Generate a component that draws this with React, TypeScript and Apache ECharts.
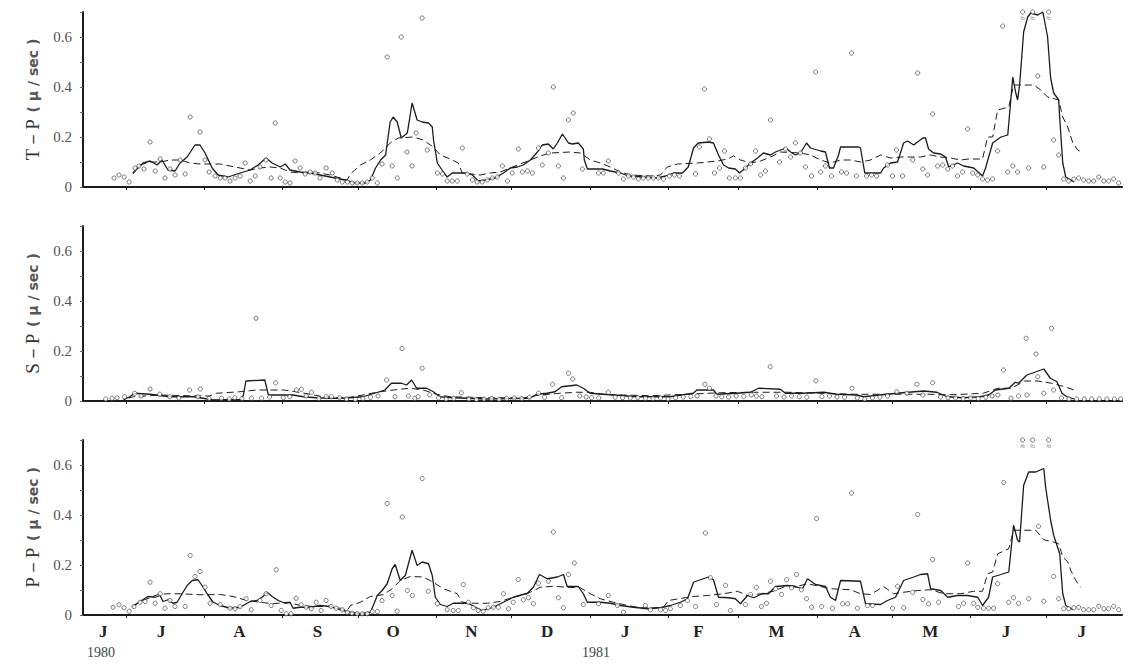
import React, { useEffect, useRef } from 'react';
import * as echarts from 'echarts';

// x = day index counted from 14 June 1980
const monthTickDays = [17, 48, 79, 109, 140, 170, 201, 232, 260, 291, 321, 352, 382];
const monthLabelDays = [8, 31, 62, 93, 123, 154, 184, 215, 244, 275, 306, 336, 366, 396];
const monthLabels = ['J', 'J', 'A', 'S', 'O', 'N', 'D', 'J', 'F', 'M', 'A', 'M', 'J', 'J'];
const yearLabels = ['1980', '1981'];
const yTickLabels = ['0', '0.2', '0.4', '0.6'];
const panelNames = ['T－P', 'S－P', 'P－P'];

// ---------- T-P ----------
const tpPoints = [[12.3,0.036],[14.3,0.048],[16.3,0.04],[18.3,0.02],[20.6,0.076],[22.2,0.084],[24.2,0.072],[26.6,0.18],[28.6,0.064],[30.6,0.112],[32.5,0.036],[34.5,0.072],[36.5,0.048],[38.5,0.108],[40.5,0.052],[42.5,0.28],[46.4,0.22],[48.4,0.108],[50,0.06],[52.4,0.044],[54.4,0.036],[56.3,0.036],[58.3,0.024],[60.3,0.036],[62.3,0.044],[64.3,0.096],[66.3,0.024],[68.3,0.044],[70.2,0.08],[72.6,0.108],[74.6,0.036],[76.2,0.256],[78.2,0.036],[80.2,0.02],[82.1,0.016],[84.1,0.104],[86.1,0.076],[88.1,0.052],[90.1,0.06],[92.1,0.056],[94,0.036],[96.4,0.076],[98.8,0.056],[100.8,0.028],[102.8,0.02],[104.8,0.02],[106.7,0.016],[108.7,0.016],[110.7,0.016],[112.7,0.02],[114.7,0.036],[116.7,0.016],[118.6,0.092],[120.6,0.52],[122.6,0.084],[124.6,0.036],[126.2,0.6],[128.5,0.14],[130.5,0.084],[132.1,0.216],[134.5,0.676],[136.5,0.148],[140.5,0.056],[142.5,0.052],[144.4,0.024],[146.4,0.024],[148.4,0.024],[150.4,0.156],[152.4,0.052],[154.4,0.028],[156.3,0.02],[158.3,0.02],[160.3,0.028],[162.3,0.036],[164.3,0.04],[166.3,0.084],[168.3,0.024],[170.2,0.056],[172.6,0.152],[174.2,0.06],[176.2,0.064],[178.2,0.056],[180.6,0.156],[182.1,0.088],[184.5,0.136],[186.5,0.4],[188.5,0.084],[190.5,0.036],[192.5,0.268],[194.4,0.296],[198,0.072],[204.4,0.056],[206.3,0.056],[208.3,0.104],[212.3,0.056],[214.3,0.032],[216.3,0.044],[218.3,0.04],[220.2,0.032],[222.2,0.036],[224.2,0.036],[226.2,0.036],[228.2,0.036],[230.2,0.032],[232.5,0.044],[234.5,0.048],[236.5,0.044],[242.9,0.052],[244.4,0.16],[246.4,0.392],[248.4,0.192],[250.4,0.056],[252.4,0.076],[254.4,0.144],[256.3,0.036],[258.7,0.036],[260.7,0.036],[262.7,0.076],[264.7,0.092],[266.7,0.144],[268.7,0.048],[270.6,0.064],[272.6,0.268],[276.2,0.1],[278.6,0.152],[280.6,0.12],[282.5,0.176],[284.5,0.136],[286.5,0.08],[288.9,0.044],[290.5,0.46],[292.5,0.06],[294.4,0.084],[296.8,0.044],[300.8,0.06],[302.8,0.056],[304.8,0.536],[306.7,0.044],[310.7,0.044],[312.7,0.048],[314.7,0.044],[319,0.088],[321,0.044],[322.6,0.148],[325,0.044],[329,0.108],[331,0.456],[333,0.072],[334.9,0.048],[336.9,0.292],[338.9,0.084],[340.9,0.088],[342.9,0.072],[344.8,0.084],[346.8,0.044],[348.8,0.06],[350.8,0.232],[352.8,0.056],[354.8,0.048],[356.7,0.032],[358.7,0.028],[360.7,0.032],[362.7,0.144],[364.7,0.644],[366.7,0.06],[368.7,0.084],[370.6,0.06],[372.6,0.7],[375,0.076],[376.6,0.7],[378.6,0.444],[381,0.08],[382.9,0.7],[384.9,0.188],[386.9,0.128],[388.9,0.032],[390.9,0.024],[392.9,0.032],[394.8,0.036],[396.8,0.028],[398.8,0.024],[400.8,0.024],[402.8,0.04],[404.8,0.024],[406.7,0.024],[408.7,0.032],[410.7,0.016]];
const tpSolid = [[19.8,0.056],[23.8,0.096],[26.6,0.104],[29.4,0.088],[31.3,0.108],[33.7,0.068],[36.5,0.064],[38.5,0.096],[41.3,0.12],[44.4,0.168],[46.4,0.168],[48.4,0.136],[51.2,0.076],[53.6,0.048],[57.5,0.04],[62.3,0.056],[66.3,0.068],[69.4,0.088],[72.6,0.116],[75,0.096],[78.2,0.08],[80.2,0.092],[82.1,0.068],[86.1,0.06],[90.1,0.056],[94,0.048],[100,0.036],[104,0.028],[108,0.016],[112,0.016],[114,0.028],[116,0.076],[118,0.108],[120,0.128],[121.8,0.26],[123,0.28],[124.6,0.26],[126.2,0.196],[128.6,0.216],[130.5,0.336],[132.5,0.268],[134.5,0.26],[137,0.256],[138.5,0.24],[139,0.188],[140.5,0.096],[142.9,0.06],[144.4,0.04],[146.4,0.056],[152.4,0.056],[154.4,0.048],[156.7,0.024],[159.5,0.028],[163.5,0.036],[166.7,0.056],[169.4,0.076],[172.2,0.08],[174.6,0.088],[177.4,0.108],[180.2,0.14],[182.1,0.168],[184.5,0.172],[186.5,0.152],[188.1,0.176],[190.1,0.212],[192.5,0.176],[194,0.172],[196.4,0.176],[198.4,0.152],[198.8,0.108],[200,0.072],[206,0.072],[209.1,0.064],[213.1,0.056],[216.3,0.044],[222.2,0.04],[227.8,0.036],[231,0.044],[234.1,0.056],[237.7,0.056],[240,0.08],[242.1,0.156],[244,0.176],[248,0.18],[250,0.176],[252,0.128],[254,0.088],[256,0.076],[258.7,0.072],[260.3,0.056],[262.7,0.076],[264.7,0.096],[267.5,0.116],[269.8,0.136],[272.6,0.128],[274.6,0.14],[278.6,0.156],[280.6,0.14],[282.5,0.128],[284.5,0.136],[286.9,0.176],[288.5,0.156],[292.5,0.144],[294.4,0.14],[296,0.076],[297.6,0.076],[299.6,0.128],[300.4,0.16],[307.5,0.16],[308.3,0.156],[310,0.056],[316.3,0.056],[317.5,0.076],[320.2,0.096],[323,0.1],[325.4,0.176],[327,0.184],[329.4,0.168],[333,0.196],[334.1,0.196],[335.3,0.152],[337.3,0.136],[340.1,0.132],[342,0.12],[343.3,0.08],[346.8,0.096],[349.2,0.084],[353.2,0.076],[356.7,0.044],[357.9,0.076],[360.7,0.176],[364,0.2],[366.7,0.208],[368.7,0.44],[369.8,0.38],[370.6,0.348],[371.4,0.408],[373,0.62],[374.6,0.68],[375.8,0.696],[378.6,0.688],[380.6,0.7],[381,0.68],[382.5,0.6],[383.7,0.436],[384.9,0.376],[386.9,0.348],[387.3,0.276],[388.5,0.096],[389.7,0.04],[391.7,0.028],[392.9,0.02]];
const tpDash = [[19.8,0.052],[22.6,0.088],[26.6,0.1],[30.6,0.1],[34.5,0.108],[38.5,0.108],[42.5,0.096],[46.4,0.092],[54.4,0.092],[58.3,0.084],[62.3,0.076],[66.3,0.068],[70.2,0.076],[74.2,0.08],[78.2,0.076],[82.1,0.06],[86.1,0.056],[90.1,0.06],[94,0.056],[98,0.048],[102,0.036],[104.8,0.028],[106,0.052],[110,0.088],[113.9,0.108],[117.9,0.136],[121.8,0.176],[125,0.196],[131,0.2],[134.9,0.188],[138.9,0.16],[141.7,0.128],[145.6,0.112],[148.8,0.096],[150.4,0.056],[157.5,0.048],[161.5,0.056],[165.5,0.06],[169.4,0.076],[173.4,0.092],[177.4,0.108],[181.3,0.124],[185.3,0.136],[193.3,0.14],[197.2,0.136],[201.2,0.108],[205.2,0.096],[209.1,0.08],[213.1,0.06],[217.1,0.048],[225,0.044],[229,0.048],[231.7,0.08],[235.7,0.092],[243.7,0.096],[247.6,0.1],[251.6,0.104],[255.6,0.112],[258,0.124],[260.7,0.108],[264.7,0.096],[268.7,0.104],[272.6,0.12],[276.6,0.14],[284.5,0.136],[288.5,0.128],[292.5,0.108],[296.4,0.096],[300.4,0.108],[304.4,0.108],[308.3,0.1],[312.3,0.108],[316.3,0.128],[320.2,0.116],[324.2,0.12],[332.1,0.12],[336.1,0.128],[340.1,0.12],[344,0.116],[348,0.108],[351.2,0.112],[356.7,0.112],[358.7,0.2],[360.7,0.2],[362.7,0.308],[367.1,0.32],[369,0.408],[377,0.408],[379.8,0.388],[382.5,0.36],[386.9,0.348],[388.5,0.28],[390.5,0.24],[392.5,0.176],[394.4,0.148],[396,0.14]];

// ---------- S-P ----------
const spPoints = [[9,0.008],[11.5,0.011],[13.5,0.013],[16.5,0.017],[20.5,0.031],[23,0.02],[26.6,0.048],[30.4,0.027],[34.4,0.017],[38,0.012],[42.3,0.044],[45.6,0.017],[46.5,0.048],[50,0.01],[54.9,0.011],[58,0.008],[60.2,0.013],[63,0.01],[66.8,0.011],[68.6,0.331],[70.8,0.011],[74,0.016],[76.4,0.073],[79.4,0.013],[82,0.017],[84.6,0.044],[86.6,0.047],[88.5,0.02],[90.6,0.035],[93.5,0.01],[96.5,0.017],[98.5,0.017],[101.8,0.013],[104.5,0.008],[108,0.006],[111,0.01],[114,0.015],[117,0.02],[120.4,0.084],[123.7,0.017],[126.5,0.21],[129,0.02],[131.6,0.011],[132.9,0.017],[134.5,0.131],[137.5,0.025],[141,0.012],[144,0.008],[147,0.01],[150,0.033],[153,0.008],[156,0.006],[159,0.008],[162,0.01],[165,0.007],[168,0.01],[171,0.012],[174,0.01],[177,0.015],[180.6,0.031],[183,0.015],[186.2,0.067],[189.8,0.013],[192.5,0.111],[194.2,0.088],[197,0.02],[199.5,0.016],[201.7,0.013],[204.5,0.012],[208.3,0.035],[211,0.015],[214,0.013],[217,0.012],[220,0.014],[223,0.011],[226,0.01],[229,0.012],[232,0.008],[235,0.013],[238,0.016],[241,0.018],[243.5,0.02],[246.6,0.067],[248.4,0.051],[251,0.02],[253.3,0.017],[256,0.016],[259,0.02],[262,0.018],[265,0.024],[267,0.02],[269.2,0.017],[272.5,0.137],[275,0.02],[278,0.016],[281,0.02],[284,0.017],[287,0.015],[290.6,0.081],[293,0.018],[296,0.02],[299,0.016],[302,0.015],[304.9,0.051],[307,0.012],[310,0.008],[313,0.012],[316,0.015],[319,0.02],[322.7,0.037],[326.7,0.031],[330.7,0.067],[333,0.024],[336.9,0.073],[340,0.016],[343,0.013],[346,0.012],[349,0.01],[352,0.012],[355,0.01],[358,0.015],[360.5,0.02],[362.8,0.024],[365,0.124],[368,0.011],[371,0.02],[374,0.251],[374.3,0.024],[377.9,0.188],[378.6,0.097],[381,0.031],[384.1,0.291],[384.9,0.044],[388,0.012],[391,0.008],[394,0.008],[397,0.008],[400,0.008],[403,0.008],[406,0.008],[409,0.008],[411.5,0.008]];
const spSolid = [[16,0.004],[18.5,0.017],[20.5,0.031],[26.5,0.027],[34.4,0.017],[43.7,0.017],[47.6,0.011],[51.6,0.004],[62.8,0.006],[63.6,0.024],[64.6,0.08],[72.1,0.084],[73.5,0.024],[79.4,0.024],[83.3,0.024],[87.3,0.017],[92.6,0.013],[97.9,0.011],[103.2,0.011],[111,0.017],[115.7,0.031],[119.7,0.044],[122.3,0.071],[126.3,0.071],[128.3,0.064],[130.3,0.084],[132.3,0.051],[136.3,0.051],[138.9,0.037],[141.5,0.017],[146.8,0.013],[160,0.008],[177.2,0.011],[179.9,0.027],[183.9,0.031],[187.2,0.037],[189.8,0.057],[195.8,0.064],[198.4,0.051],[201.1,0.031],[206.3,0.027],[219.6,0.017],[232.8,0.017],[242,0.031],[243.4,0.044],[250,0.044],[251.3,0.027],[259.2,0.031],[264.6,0.035],[267.9,0.051],[276.5,0.047],[278.5,0.031],[285.7,0.031],[293.7,0.035],[298.9,0.027],[306.9,0.024],[309.5,0.017],[322.7,0.031],[333.3,0.04],[338.6,0.035],[342.6,0.017],[349.2,0.013],[355.8,0.017],[359.1,0.024],[361.8,0.044],[367.1,0.051],[369.7,0.075],[371,0.071],[374.3,0.104],[381,0.128],[383.6,0.091],[386.2,0.077],[388.2,0.031],[390.2,0.017],[393,0.008]];
const spDash = [[18,0.012],[20,0.017],[30.4,0.024],[42.3,0.021],[50,0.02],[52.9,0.031],[62.2,0.037],[68.8,0.044],[79.4,0.044],[84.6,0.037],[90,0.027],[95.2,0.017],[101,0.013],[106,0.015],[111,0.024],[116.4,0.035],[123,0.044],[129.6,0.051],[134.9,0.044],[140.2,0.027],[145.5,0.017],[160,0.013],[175,0.013],[181.2,0.024],[189.2,0.031],[195.8,0.035],[201.1,0.035],[206,0.027],[214,0.024],[225,0.021],[239.4,0.027],[252.7,0.033],[265.9,0.035],[279,0.035],[292.3,0.031],[305.6,0.027],[320,0.027],[335,0.027],[345,0.025],[357,0.031],[362.8,0.051],[368.1,0.051],[373.4,0.08],[378.7,0.08],[384,0.071],[389.3,0.057],[394.2,0.04]];

// ---------- P-P ----------
const ppPoints = [[11.9,0.031],[14.3,0.041],[16.3,0.029],[18.3,0.015],[20.2,0.034],[22.6,0.051],[24.6,0.054],[26.6,0.131],[28.6,0.047],[30.6,0.085],[32.5,0.027],[34.5,0.058],[36.5,0.034],[40.5,0.034],[42.5,0.238],[44.4,0.154],[46.4,0.174],[48.4,0.111],[50.4,0.047],[54.4,0.041],[58.3,0.027],[60.3,0.025],[62.3,0.034],[64.7,0.065],[66.7,0.021],[70.2,0.058],[72.6,0.085],[74.6,0.038],[76.6,0.181],[78.6,0.018],[80.6,0.005],[82.5,0.005],[84.5,0.067],[86.5,0.041],[88.5,0.031],[90.5,0.025],[92.5,0.051],[94.4,0.018],[96.4,0.058],[98.4,0.034],[100.4,0.027],[102.8,0.021],[104.8,0.011],[106.7,0.007],[108.7,0.005],[110.7,0.005],[112.7,0.005],[114.7,0.014],[116.7,0.014],[118.6,0.058],[120.6,0.446],[122.6,0.078],[124.6,0.015],[126.6,0.392],[128.6,0.098],[130.6,0.078],[134.5,0.546],[136.9,0.095],[140.5,0.045],[144.4,0.021],[146.8,0.018],[148.8,0.018],[150.8,0.122],[152.8,0.051],[154.8,0.029],[156.7,0.018],[158.7,0.015],[160.7,0.029],[162.7,0.031],[164.7,0.031],[166.7,0.085],[168.7,0.025],[170.6,0.051],[172.6,0.142],[174.6,0.061],[176.6,0.069],[178.6,0.045],[180.6,0.127],[184.5,0.135],[186.5,0.332],[188.5,0.069],[190.5,0.029],[192.5,0.162],[194.8,0.208],[198.4,0.042],[204.4,0.045],[208.3,0.078],[211.9,0.038],[214.3,0.011],[223,0.038],[225,0.021],[229,0.021],[231,0.018],[232.9,0.025],[236.9,0.038],[239.7,0.058],[242.9,0.034],[246.8,0.328],[248.8,0.149],[251.2,0.042],[254.8,0.118],[256.7,0.018],[262.7,0.042],[264.7,0.082],[267,0.111],[269,0.034],[271,0.047],[272.6,0.135],[274.6,0.105],[277,0.082],[279,0.141],[281,0.109],[282.9,0.162],[284.9,0.101],[286.9,0.065],[288.9,0.031],[290.9,0.386],[292.9,0.034],[297.2,0.027],[301.2,0.045],[303.2,0.045],[304.8,0.488],[307.1,0.027],[311.1,0.038],[313.1,0.038],[321,0.027],[323,0.115],[325.4,0.029],[329,0.091],[331,0.402],[333,0.062],[335.3,0.045],[336.9,0.222],[339.3,0.051],[347.2,0.034],[349.2,0.047],[350.8,0.208],[353.2,0.047],[354.8,0.031],[357.1,0.027],[359.1,0.027],[361.1,0.027],[362.7,0.125],[365.1,0.53],[367.1,0.051],[369,0.069],[371,0.047],[372.6,0.7],[375,0.065],[376.6,0.7],[378.9,0.355],[381,0.055],[382.9,0.7],[384.9,0.154],[386.9,0.065],[388.9,0.025],[390.9,0.025],[392.9,0.029],[394.8,0.031],[396.8,0.021],[398.8,0.021],[400.8,0.021],[402.8,0.035],[404.8,0.025],[406.7,0.025],[408.7,0.035],[410.7,0.021]];
const ppSolid = [[19.4,0.031],[22.6,0.054],[25.8,0.074],[28.6,0.071],[30.6,0.078],[31.7,0.054],[33.7,0.061],[35.7,0.047],[37.3,0.051],[39.3,0.085],[41.3,0.118],[43.3,0.138],[45.6,0.141],[47.2,0.118],[49.2,0.085],[51.6,0.051],[54.4,0.038],[58.3,0.027],[62.3,0.031],[66.3,0.054],[69,0.058],[71,0.071],[73,0.091],[75,0.074],[77.4,0.058],[80.2,0.047],[82.1,0.051],[83.3,0.027],[86.1,0.031],[90.1,0.031],[94,0.038],[98,0.034],[102,0.021],[106,0.011],[110,0.005],[113.9,0.011],[115.1,0.038],[116.7,0.078],[118.6,0.098],[120.6,0.125],[122.6,0.185],[123.8,0.202],[125.8,0.138],[127.8,0.158],[130.5,0.259],[132.5,0.198],[134.5,0.212],[137,0.205],[138.5,0.158],[139.7,0.071],[141.7,0.042],[144.4,0.034],[146.8,0.047],[152.8,0.047],[155.6,0.031],[158.3,0.018],[162.7,0.031],[166.7,0.051],[170.6,0.071],[176.2,0.087],[178.6,0.111],[181,0.162],[184.1,0.145],[188.1,0.152],[190.5,0.162],[192,0.114],[196.4,0.114],[198.4,0.085],[200,0.051],[205.2,0.051],[209.1,0.047],[213.1,0.038],[218.3,0.031],[223.8,0.025],[229,0.029],[232.9,0.038],[236.9,0.051],[239.7,0.065],[242.1,0.131],[244.8,0.141],[248,0.152],[250,0.141],[252,0.071],[256,0.069],[258.7,0.065],[260.7,0.045],[263.5,0.078],[265.9,0.069],[269.4,0.085],[271.8,0.085],[274.6,0.114],[279.4,0.118],[283.3,0.111],[285.3,0.105],[287.3,0.145],[290.5,0.122],[294.4,0.114],[296.4,0.071],[298.4,0.058],[300.4,0.138],[308.3,0.135],[310.3,0.045],[316.3,0.042],[319,0.058],[322.2,0.071],[325.4,0.138],[329.4,0.152],[332.1,0.162],[334.9,0.165],[336.1,0.105],[340.1,0.098],[342.9,0.071],[346.8,0.078],[350.8,0.078],[354.8,0.071],[356.7,0.038],[359.1,0.071],[360.7,0.152],[364,0.162],[367.1,0.172],[369,0.359],[370.6,0.299],[371.4,0.292],[373,0.519],[375,0.572],[377.8,0.572],[381,0.586],[381.7,0.512],[383.7,0.379],[384.9,0.319],[387.3,0.245],[388.5,0.085],[389.7,0.038],[392.5,0.021]];
const ppDash = [[19.8,0.038],[23.8,0.058],[29.4,0.081],[33.3,0.085],[38.5,0.085],[46.4,0.081],[54.4,0.082],[59.5,0.074],[65,0.058],[70.2,0.051],[75.4,0.045],[81,0.051],[86.1,0.038],[91.3,0.034],[96.8,0.034],[102,0.027],[104.8,0.018],[106,0.038],[110,0.051],[113.9,0.074],[119,0.081],[122.6,0.105],[125.8,0.138],[129.8,0.154],[134.9,0.152],[138.9,0.131],[142.9,0.105],[148.4,0.085],[150.4,0.051],[154.8,0.047],[160.3,0.047],[165.5,0.054],[170.6,0.071],[176.2,0.085],[181.3,0.111],[186.5,0.115],[192,0.111],[197.2,0.109],[201.2,0.085],[205.2,0.065],[210.3,0.051],[215.9,0.038],[221,0.029],[226.2,0.029],[230.2,0.031],[232.1,0.058],[236.9,0.066],[242.1,0.074],[247.6,0.078],[254,0.085],[259.5,0.095],[263.5,0.078],[268.7,0.085],[273.8,0.095],[279.4,0.118],[283.3,0.115],[287.3,0.125],[292.5,0.114],[296.4,0.105],[304.4,0.101],[308.3,0.085],[312.3,0.082],[317.5,0.114],[321.4,0.085],[325.4,0.091],[331,0.098],[336.1,0.101],[341.3,0.085],[348,0.085],[353.2,0.095],[356.7,0.095],[358.7,0.165],[360.7,0.172],[362.7,0.245],[367.1,0.265],[369,0.339],[377.8,0.339],[381,0.301],[384.9,0.292],[386.9,0.285],[388.5,0.232],[390.5,0.212],[391.7,0.178],[393.7,0.138],[395.6,0.111]];

const panels = [
  { pts: tpPoints, solid: tpSolid, dash: tpDash },
  { pts: spPoints, solid: spSolid, dash: spDash },
  { pts: ppPoints, solid: ppSolid, dash: ppDash },
];

const INK = '#1c1c1c';
const SERIF = '"Liberation Serif", "DejaVu Serif", serif';

export default function App() {
  const ref = useRef<HTMLDivElement>(null);
  useEffect(() => {
    if (!ref.current) return;
    const chart = echarts.init(ref.current, undefined, { renderer: 'svg' });
    const tops = [12, 226, 440];
    const grid = tops.map((t) => ({ left: 83, right: 6, top: t, height: 175 }));
    const xAxis = panels.map((_, i) => ({
      type: 'value',
      gridIndex: i,
      min: 0,
      max: 412,
      axisLine: { show: true, lineStyle: { color: INK, width: 2.2 } },
      axisTick: { show: true, length: 3, customValues: monthTickDays, lineStyle: { color: INK, width: 1 } },
      axisLabel: {
        show: i === 2,
        customValues: monthLabelDays,
        margin: 8,
        color: '#222',
        fontFamily: SERIF,
        fontWeight: 'bold',
        fontSize: 17,
        formatter: (v: number) => {
          const k = monthLabelDays.indexOf(Math.round(v));
          return k >= 0 ? monthLabels[k] : '';
        },
      },
      splitLine: { show: false },
    }));
    const yAxis = panels.map((_, i) => ({
      type: 'value',
      gridIndex: i,
      min: 0,
      max: 0.7,
      interval: 0.1,
      name: `{a|${panelNames[i]}}  {b|( μ / sec )}`,
      nameLocation: 'middle',
      nameGap: 36,
      nameRotate: 90,
      nameTextStyle: {
        rich: {
          a: { fontFamily: SERIF, fontSize: 19, color: '#333' },
          b: { fontFamily: '"DejaVu Sans", sans-serif', fontSize: 14, fontWeight: 'bold', color: '#555' },
        },
      },
      axisLine: { show: true, lineStyle: { color: INK, width: 2 } },
      axisTick: { show: true, length: 3, lineStyle: { color: '#666', width: 1 } },
      axisLabel: {
        margin: 11,
        color: '#555',
        fontFamily: SERIF,
        fontSize: 15,
        formatter: (v: number) => {
          const n = Math.round(v * 10);
          return n % 2 === 0 && n <= 6 ? yTickLabels[n / 2] : '';
        },
      },
      splitLine: { show: false },
    }));
    const series: any[] = [];
    panels.forEach((p, i) => {
      series.push({
        type: 'line', xAxisIndex: i, yAxisIndex: i, data: p.dash, symbol: 'none',
        lineStyle: { color: INK, width: 1, type: [7, 4] }, z: 2,
      });
      series.push({
        type: 'line', xAxisIndex: i, yAxisIndex: i, data: p.solid, symbol: 'none',
        lineStyle: { color: INK, width: 1.3 }, z: 3,
      });
      series.push({
        type: 'scatter', xAxisIndex: i, yAxisIndex: i, data: p.pts, clip: false,
        symbol: 'circle', symbolSize: 4.2,
        itemStyle: { color: '#fff', borderColor: '#333', borderWidth: 0.8 },
        label: {
          show: true, position: 'bottom', distance: -1, fontSize: 9, color: '#444',
          formatter: (q: any) => (q.value[1] >= 0.7 ? '≈' : ''),
        },
        z: 4,
      });
    });
    chart.setOption({
      animation: false,
      backgroundColor: '#fff',
      grid,
      xAxis,
      yAxis,
      series,
      graphic: [
        { type: 'text', left: 87, top: 645, style: { text: yearLabels[0], font: `14px ${SERIF}`, fill: '#444' } },
        { type: 'text', left: 582, top: 645, style: { text: yearLabels[1], font: `14px ${SERIF}`, fill: '#444' } },
      ],
    });
    return () => chart.dispose();
  }, []);
  return <div ref={ref} style={{ position: 'absolute', left: 0, top: 0, width: 1128, height: 664 }} />;
}
